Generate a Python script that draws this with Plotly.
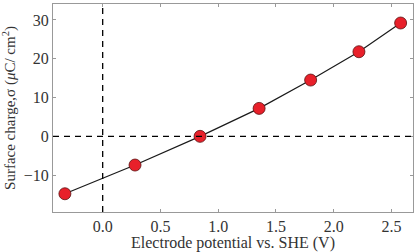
import plotly.graph_objects as go

potential = [-0.327, 0.28, 0.843, 1.354, 1.80, 2.218, 2.579]
charge = [-14.8, -7.4, 0.0, 7.2, 14.5, 21.8, 29.2]

x_ticks = [0.0, 0.5, 1.0, 1.5, 2.0, 2.5]
y_ticks = [-10, 0, 10, 20, 30]

fig = go.Figure()
fig.add_hline(y=0, line=dict(color="black", width=1.3, dash="6px,5px"))
fig.add_vline(x=0, line=dict(color="black", width=1.3, dash="6px,5px"))
fig.add_trace(go.Scatter(
    x=potential, y=charge, mode="lines+markers",
    line=dict(color="#1a1a1a", width=1.2),
    marker=dict(size=12, color="#e8202a", line=dict(color="#5a1010", width=0.8)),
    showlegend=False,
))

font = dict(family="Liberation Serif, Times New Roman, serif", size=16, color="#333333")
fig.update_layout(
    width=416, height=252,
    margin=dict(l=53, r=3, t=4, b=40),
    paper_bgcolor="white", plot_bgcolor="white",
    font=font,
    xaxis=dict(
        range=[-0.43, 2.686], tickvals=x_ticks, ticktext=[f"{v:.1f}" for v in x_ticks],
        showgrid=False, zeroline=False, showline=True, linecolor="#999999", linewidth=1.2,
        mirror="ticks", ticks="inside", ticklen=3, tickcolor="#999999",
        title=dict(text="Electrode potential vs. SHE (V)", standoff=2, font=dict(size=16)),
        tickfont=dict(size=16),
    ),
    yaxis=dict(
        range=[-19.5, 34.1], tickvals=y_ticks,
        showgrid=False, zeroline=False, showline=True, linecolor="#999999", linewidth=1.2,
        mirror="ticks", ticks="inside", ticklen=3, tickcolor="#999999",
        title=dict(text="Surface charge,σ (<i>μ</i>C/ cm<sup>2</sup>)", standoff=4, font=dict(size=15)),
        tickfont=dict(size=16),
    ),
)
fig.write_html(
    "out.html",
    config={"displayModeBar": False},
    post_script="document.body.style.margin='0';document.body.style.overflow='hidden';",
)
